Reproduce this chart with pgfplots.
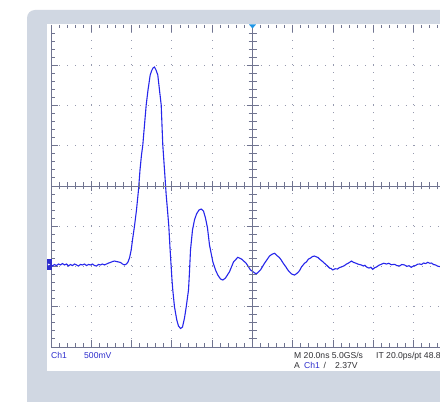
\documentclass[border=0pt]{standalone}
\usepackage{pgfplots}
\pgfplotsset{compat=1.18}
\usepackage{fontspec}
\setmainfont{Liberation Sans}
\definecolor{bandgray}{RGB}{208,215,226}
\definecolor{gratgray}{RGB}{112,116,144}
\definecolor{dotgray}{RGB}{150,154,175}
\definecolor{trace}{RGB}{38,38,235}
\definecolor{chblue}{RGB}{45,45,205}
\definecolor{txtdark}{RGB}{48,48,52}
\definecolor{trigblue}{RGB}{30,150,230}
\begin{document}
\begin{tikzpicture}
\begin{scope}[x=1pt,y=1pt]
\fill[white] (0,0) rectangle (440,402);
\fill[bandgray, rounded corners=8pt] (27,-20) rectangle (470,392);
\fill[white] (47,31) rectangle (470,378);
\end{scope}
\begin{axis}[
  at={(51pt,55pt)}, anchor=south west,
  width=403pt, height=322pt, scale only axis,
  xmin=-100, xmax=100, ymin=-1, ymax=3,
  axis line style={draw=none},
  xtick={-80,-60,...,80}, ytick={-0.5,0,0.5,1,1.5,2,2.5},
  minor xtick={-96,-92,...,96},
  minor ytick={-0.9,-0.8,...,2.9},
  xticklabels={}, yticklabels={},
  tick align=inside, tick pos=both,
  major tick length=7pt, minor tick length=3.5pt,
  every tick/.style={gratgray, line width=0.9pt},
  minor tick style={gratgray, line width=0.9pt},
  major tick style={gratgray, line width=0.9pt},
  grid=major,
  major grid style={dotgray, line width=0.9pt, dash pattern=on 0.9pt off 7.16pt},
  clip=true,
]
\addplot[trace, line width=1.1pt] coordinates {
(-100.00,0.019) (-99.26,0.006) (-98.27,0.025) (-97.27,0.012) (-96.28,0.031)
(-95.29,0.019) (-94.30,0.037) (-93.30,0.019) (-92.31,0.031) (-91.32,0.006)
(-90.33,0.025) (-89.33,0.012) (-88.34,0.031) (-87.35,0.019) (-86.36,0.006)
(-85.36,0.025) (-84.37,0.019) (-83.38,0.031) (-82.39,0.012) (-81.39,0.025)
(-80.40,0.019) (-79.41,0.031) (-78.42,0.012) (-77.42,0.006) (-76.43,0.025)
(-75.44,0.019) (-74.45,0.031) (-73.45,0.019) (-72.46,0.031) (-71.47,0.043)
(-70.47,0.050) (-69.48,0.062) (-68.49,0.068) (-67.50,0.062) (-66.50,0.056)
(-65.51,0.050) (-64.52,0.031) (-63.53,0.019) (-62.53,0.031) (-61.79,0.056)
(-61.04,0.106) (-60.20,0.205) (-59.56,0.329) (-58.56,0.503) (-57.57,0.702)
(-56.58,0.950) (-55.83,1.199) (-55.09,1.385) (-54.44,1.509) (-53.60,1.758)
(-52.76,2.006) (-51.86,2.192) (-50.77,2.379) (-50.13,2.428) (-49.38,2.466)
(-48.64,2.478) (-47.89,2.441) (-47.00,2.379) (-46.16,2.192) (-45.31,2.006)
(-44.92,1.758) (-44.52,1.509) (-43.67,1.199) (-42.83,0.888) (-42.19,0.702)
(-41.54,0.503) (-40.94,0.230) (-40.35,-0.006) (-39.95,-0.168) (-39.56,-0.292)
(-38.71,-0.503) (-37.57,-0.665) (-36.73,-0.739) (-35.73,-0.770) (-34.74,-0.752)
(-33.75,-0.640) (-32.90,-0.503) (-31.76,-0.292) (-31.27,-0.068) (-30.77,0.205)
(-29.78,0.453) (-28.79,0.578) (-27.79,0.652) (-26.55,0.702) (-25.46,0.714)
(-24.32,0.689) (-23.33,0.602) (-22.33,0.478) (-21.34,0.267) (-19.70,0.060)
(-18.36,-0.043) (-17.22,-0.106) (-15.88,-0.155) (-14.74,-0.168) (-13.40,-0.143)
(-11.41,-0.065) (-9.43,0.056) (-7.30,0.114) (-5.46,0.093) (-3.13,0.040)
(-0.99,-0.043) (1.84,-0.093) (3.97,-0.043) (5.96,0.040) (8.44,0.130)
(9.70,0.152) (10.92,0.164) (11.60,0.150) (12.41,0.130) (13.30,0.112)
(14.24,0.081) (15.00,0.050) (15.88,0.019) (16.70,-0.010) (17.52,-0.043)
(18.40,-0.068) (19.36,-0.093) (20.84,-0.106) (21.80,-0.090) (22.83,-0.068)
(23.60,-0.040) (24.32,-0.006) (25.81,0.040) (26.80,0.058) (27.79,0.093)
(28.80,0.105) (29.80,0.124) (30.77,0.130) (31.80,0.118) (32.50,0.112)
(33.25,0.093) (34.50,0.068) (35.73,0.040) (37.00,0.012) (38.22,-0.019)
(39.00,-0.025) (39.85,-0.043) (41.00,-0.028) (42.19,-0.031) (43.20,-0.012)
(44.17,-0.006) (45.66,0.012) (46.60,0.030) (47.64,0.043) (48.40,0.055)
(49.13,0.068) (50.10,0.052) (51.12,0.043) (52.30,0.030) (53.95,0.019)
(55.00,0.006) (55.80,0.015) (56.58,-0.006) (57.80,-0.020) (58.70,-0.010)
(59.70,-0.035) (60.60,-0.015) (61.54,-0.006) (62.70,0.015) (63.87,0.027)
(65.10,0.040) (66.50,0.031) (67.60,0.040) (68.90,0.022) (70.47,0.027)
(71.60,0.012) (72.96,0.006) (74.10,0.025) (75.44,0.019) (76.60,0.002)
(77.70,0.010) (78.76,-0.010) (79.80,0.005) (80.90,0.012) (81.90,0.028)
(82.88,0.031) (83.90,0.025) (84.87,0.043) (86.00,0.037) (87.00,0.052)
(88.00,0.040) (88.84,0.043) (89.80,0.025) (90.82,0.019) (91.80,0.006)
(92.81,-0.002) (94.50,0.012) (96.00,0.019) (98.00,0.010) (100.00,0.020)
};
\end{axis}
\begin{scope}[x=1pt,y=1pt]
% frame lines (left, bottom) and centre cross
\draw[gratgray, line width=0.9pt] (51,377) -- (51,55) -- (454,55);
\draw[gratgray, line width=0.9pt] (252.5,55) -- (252.5,377);
\draw[gratgray, line width=0.9pt] (51,216) -- (454,216);
\foreach \i in {1,...,39}{
  \pgfmathsetmacro{\yy}{55+8.05*\i}
  \pgfmathsetmacro{\ll}{ifthenelse(mod(\i,5)==0,6,4)}
  \draw[gratgray, line width=0.9pt] (252.5-\ll,\yy) -- (252.5+\ll,\yy);
}
\foreach \i in {1,...,49}{
  \pgfmathsetmacro{\xx}{51+8.06*\i}
  \pgfmathsetmacro{\ll}{ifthenelse(mod(\i,5)==0,5,3.5)}
  \draw[gratgray, line width=0.9pt] (\xx,216-\ll) -- (\xx,216+\ll);
}
% trigger position marker and ground marker
\fill[trigblue] (249,377.5) -- (256,377.5) -- (252.5,373.5) -- cycle;
\fill[chblue] (47,132) rectangle (51.5,143);
\fill[white] (47.8,136.5) -- (50.2,137.5) -- (47.8,138.5) -- cycle;
% readouts
\begin{scope}[every node/.style={inner sep=0pt, anchor=base west, font=\fontsize{8.6}{10}\selectfont}]
\node[text=chblue] at (51,43.7) {Ch1};
\node[text=chblue] at (84,43.7) {500mV};
\node[text=txtdark] at (294,43.7) {M 20.0ns 5.0GS/s};
\node[text=txtdark] at (376,43.7) {IT 20.0ps/pt 48.8};
\node[text=txtdark] at (294,33.7) {A};
\node[text=chblue] at (304,33.7) {Ch1};
\node[text=txtdark] at (323.5,33.7) {/};
\node[text=txtdark] at (335,33.7) {2.37V};
\end{scope}
\end{scope}
\pgfresetboundingbox
\path[use as bounding box] (0pt,0pt) rectangle (440pt,402pt);
\end{tikzpicture}
\end{document}
